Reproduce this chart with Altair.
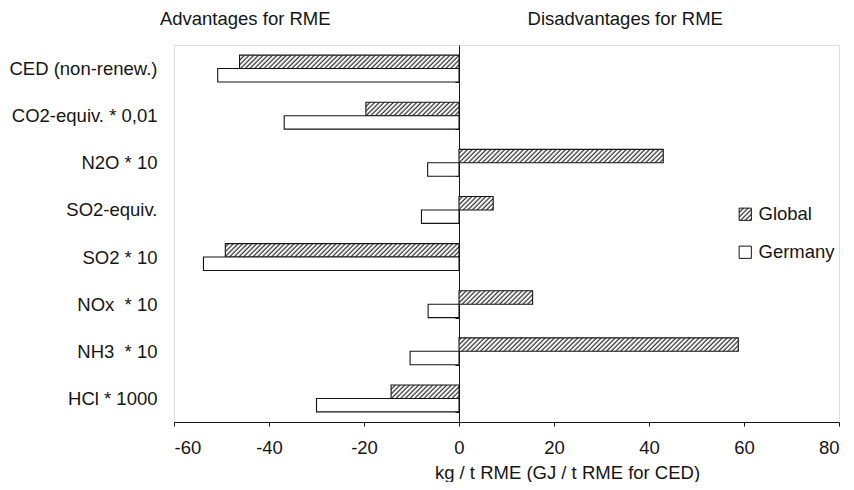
import altair as alt
import pandas as pd
import jinja2

# ---- data ----
categories = ["CED (non-renew.)", "CO2-equiv. * 0,01", "N2O * 10", "SO2-equiv.",
              "SO2 * 10", "NOx \u00a0* 10", "NH3 \u00a0* 10", "HCl * 1000"]
global_vals = [-46.2, -19.6, 43.0, 7.2, -49.2, 15.5, 58.8, -14.3]
germany_vals = [-50.8, -36.8, -6.6, -7.9, -53.8, -6.5, -10.3, -30.0]
series_names = ["Global", "Germany"]
x_ticks = [-60, -40, -20, 0, 20, 40, 60, 80]
header_texts = ["Advantages for RME", "Disadvantages for RME"]
header_pos = [-45, 35]

rows = []
for c, g, d in zip(categories, global_vals, germany_vals):
    rows.append({"cat": c, "series": "Global", "value": g})
    rows.append({"cat": c, "series": "Germany", "value": d})
df = pd.DataFrame(rows)
hdr = pd.DataFrame({"text": header_texts, "x": header_pos})

W, H = 665, 377
XMIN, XMAX = -60, 80
zero_px = W * (0 - XMIN) / (XMAX - XMIN)
FONT = "Liberation Sans"
FS = 18.5
INK = "#151515"

xscale = alt.Scale(domain=[XMIN, XMAX], nice=False, zero=False)

bars = alt.Chart(df).mark_bar(stroke=INK, strokeWidth=1.1).encode(
    x=alt.X("value:Q", scale=xscale,
            axis=alt.Axis(values=x_ticks, title="kg / t RME (GJ / t RME for CED)",
                          labelExpr="replace(datum.label, '\u2212', '-')",
                          grid=False, tickSize=4, labelPadding=12,
                          labelFontSize=FS, labelFont=FONT, labelColor=INK,
                          domainColor=INK, tickColor=INK,
                          titleFontSize=FS, titleFont=FONT, titleFontWeight="normal",
                          titleColor=INK, titleX=393, titleY=56,
                          titleBaseline="alphabetic", titleAlign="center")),
    y=alt.Y("cat:N", sort=categories,
            scale=alt.Scale(paddingInner=0.43, paddingOuter=0.215),
            axis=alt.Axis(title=None, offset=-zero_px, tickBand="extent",
                          tickSize=4, labelPadding=zero_px + 13,
                          labelFontSize=FS, labelFont=FONT, labelColor=INK,
                          labelLimit=400, domainColor=INK, tickColor=INK)),
    yOffset=alt.YOffset("series:N", sort=series_names,
                        scale=alt.Scale(paddingInner=0, paddingOuter=0)),
    fill=alt.Fill("series:N", sort=series_names,
                  scale=alt.Scale(domain=series_names, range=["url(#hatch)", "white"]),
                  legend=alt.Legend(title=None, orient="none", legendX=562, legendY=160,
                                    symbolType="square", symbolSize=150,
                                    symbolStrokeColor=INK, symbolStrokeWidth=1,
                                    labelFontSize=FS, labelFont=FONT, labelColor=INK,
                                    labelOffset=4, rowPadding=19, padding=0)),
)

headers = alt.Chart(hdr).mark_text(font=FONT, fontSize=FS, color=INK,
                                   baseline="alphabetic", align="center").encode(
    x=alt.X("x:Q", scale=xscale),
    y=alt.value(-20),
    text="text:N",
)

chart = alt.layer(bars, headers).properties(
    width=W, height=H,
    autosize=alt.AutoSizeParams(type="none"),
    padding={"left": 166, "top": 37, "right": 7, "bottom": 60},
).configure_view(stroke="transparent").configure(font=FONT)

TEMPLATE = jinja2.Template("""<!DOCTYPE html>
<html>
<head>
  <meta charset="utf-8">
  <style>
    #{{ output_div }}.vega-embed { width: 100%; display: flex; }
    #{{ output_div }}.vega-embed details,
    #{{ output_div }}.vega-embed details summary { position: relative; }
  </style>
  <script type="text/javascript" src="{{ base_url }}/vega@{{ vega_version }}"></script>
  <script type="text/javascript" src="{{ base_url }}/vega-lite@{{ vegalite_version }}"></script>
  <script type="text/javascript" src="{{ base_url }}/vega-embed@{{ vegaembed_version }}"></script>
</head>
<body>
  <svg width="0" height="0" style="position:absolute">
    <defs>
      <pattern id="hatch" patternUnits="userSpaceOnUse" width="3.3" height="3.3"
               patternTransform="rotate(45)">
        <rect x="0" y="0" width="3.3" height="3.3" fill="white"/>
        <line x1="1" y1="-1" x2="1" y2="5" stroke="#1a1a1a" stroke-width="1.1"/>
      </pattern>
    </defs>
  </svg>
  <div id="{{ output_div }}"></div>
  <script>
    (function(vegaEmbed) {
      var spec = {{ spec }};
      var embedOpt = {{ embed_options }};
      function showError(el, error){
        el.innerHTML = ('<div style="color:red;"><p>JavaScript Error: ' + error.message + '</p></div>');
        throw error;
      }
      const el = document.getElementById('{{ output_div }}');
      vegaEmbed("#{{ output_div }}", spec, embedOpt).catch(error => showError(el, error));
    })(vegaEmbed);
  </script>
</body>
</html>
""")

chart.save("out.html", embed_options={"renderer": "svg", "actions": False}, template=TEMPLATE)
